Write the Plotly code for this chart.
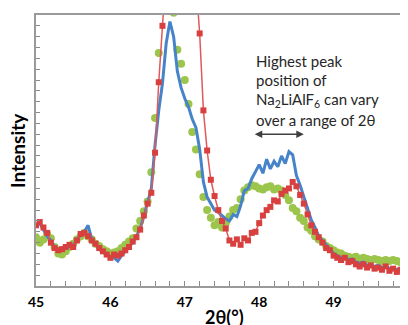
import plotly.graph_objects as go

# 2-theta grid (degrees) read at 0.05 steps
two_theta = [round(45 + 0.05 * i, 2) for i in range(101)]

red_sample = [
    5.6, 5.9, 5.4, 4.9, 4.0, 3.5, 3.3, 3.4, 3.6, 3.8,
    3.6, 4.2, 4.8, 4.9, 4.6, 4.2, 3.9, 3.5, 3.2, 2.9,
    2.6, 2.9, 2.8, 3.0, 3.3, 3.6, 4.1, 4.5, 5.2, 6.5,
    7.6, 8.6, 12.3, 18.8, 24.0, 32.0, 40.0, 46.0, 50.0, 50.0,
    48.0, 42.0, 35.0, 28.0, 23.3, 16.2, 12.5, 9.8, 8.3, 7.0,
    6.0, 5.3, 4.2, 3.9, 4.3, 3.8, 4.4, 4.2, 4.9, 5.0,
    5.8, 6.5, 7.0, 7.3, 7.9, 7.8, 8.5, 8.8, 9.0, 9.6,
    9.2, 8.4, 7.6, 6.6, 5.6, 5.0, 4.5, 4.0, 3.5, 3.3,
    2.8, 2.6, 2.4, 2.6, 2.2, 2.3, 2.0, 1.8, 2.0, 1.7,
    1.9, 1.6, 1.7, 1.5, 1.8, 1.4, 1.6, 1.3, 1.5, 1.3,
    1.4,
]

blue_sample = [
    5.5, 5.8, 5.2, 4.6, 4.2, 3.6, 3.4, 3.5, 3.7, 3.6,
    3.7, 4.3, 4.7, 5.0, 5.6, 4.3, 3.9, 3.4, 3.1, 2.9,
    2.7, 2.6, 2.3, 2.8, 3.2, 3.6, 4.0, 4.6, 5.3, 6.4,
    7.6, 9.0, 13.0, 16.2, 18.7, 22.4, 24.4, 23.0, 19.8, 18.3,
    17.3, 16.5, 15.4, 14.6, 12.6, 9.6, 8.2, 7.6, 7.0, 6.8,
    6.5, 6.2, 6.0, 6.6, 6.4, 7.4, 8.8, 9.0, 9.9, 10.6,
    11.2, 10.4, 11.7, 10.8, 11.5, 11.0, 12.0, 11.3, 12.4, 12.1,
    10.2, 9.3, 8.3, 7.2, 6.1, 5.4, 4.6, 4.2, 3.8, 3.5,
    3.0, 2.8, 2.6, 2.7, 2.4, 2.5, 2.2, 2.1, 2.2, 1.9,
    2.0, 1.8, 1.9, 1.7, 1.9, 1.6, 1.7, 1.5, 1.6, 1.4,
    1.5,
]

green_sample = [
    4.5, 4.0, 4.3, 4.8, 4.4, 3.6, 3.0, 2.9, 3.2, 3.6,
    3.9, 4.3, 4.6, 4.9, 4.6, 4.3, 3.9, 3.7, 3.4, 3.2,
    3.0, 3.1, 3.2, 3.5, 3.8, 4.1, 4.4, 5.3, 6.0, 6.9,
    7.8, 10.5, 15.5, 21.5, 25.5, 28.0, 27.0, 25.2, 21.8, 20.5,
    19.0, 16.8, 14.2, 12.6, 10.3, 8.2, 7.0, 6.3, 5.6, 5.9,
    5.4, 5.8, 6.4, 7.0, 7.2, 8.0, 8.8, 9.1, 9.3, 9.2,
    9.0, 8.9, 9.1, 9.2, 8.9, 9.0, 8.8, 8.4, 7.9, 7.2,
    6.9, 6.3, 6.0, 5.4, 5.1, 4.6, 4.3, 4.1, 3.7, 3.5,
    3.3, 3.1, 3.0, 2.8, 2.7, 2.6, 2.7, 2.5, 2.6, 2.5,
    2.4, 2.5, 2.4, 2.3, 2.4, 2.3, 2.4, 2.3, 2.2, 2.2,
    2.1,
]

x_tick_vals = [45, 46, 47, 48, 49, 50]
x_tick_text = ["45", "46", "47", "48", "49", "50"]

note_lines = [
    "Highest peak",
    "position of",
    "Na<sub>2</sub>LiAlF<sub>6</sub> can vary",
    "over a range of 2θ",
]

x_title = "2θ(°)"
y_title = "Intensity"

FONT = "Lato"

fig = go.Figure()
fig.add_trace(go.Scatter(
    x=two_theta, y=green_sample, mode="markers",
    marker=dict(symbol="circle", size=8, color="#9cc54b"),
    showlegend=False))
fig.add_trace(go.Scatter(
    x=two_theta, y=blue_sample, mode="lines",
    line=dict(color="#4683c9", width=3),
    showlegend=False))
fig.add_trace(go.Scatter(
    x=two_theta, y=red_sample, mode="lines+markers",
    line=dict(color="#e0585a", width=1.5),
    marker=dict(symbol="square", size=6, color="#d8403f"),
    showlegend=False))

# annotation text block
note_y = [20.8, 19.0, 17.2, 15.3]
for txt, yy in zip(note_lines, note_y):
    fig.add_annotation(x=47.93, y=yy, xref="x", yref="y", text=txt,
                       showarrow=False, xanchor="left", yanchor="middle",
                       font=dict(family=FONT, size=15, color="#262626"))

# double-headed arrow
fig.add_annotation(x=48.6, y=14.0, ax=47.92, ay=14.0, xref="x", yref="y",
                   axref="x", ayref="y", text="", showarrow=True,
                   arrowhead=2, arrowside="end+start", arrowsize=1,
                   arrowwidth=1.5, arrowcolor="#404040")

# axis titles
fig.add_annotation(x=47.54, y=-0.115, xref="x", yref="paper", text=x_title,
                   showarrow=False, xanchor="center", yanchor="middle",
                   font=dict(family=FONT, size=18, color="black", weight="bold"))
fig.add_annotation(x=-0.05, y=0.5, xref="paper", yref="paper", text=y_title,
                   showarrow=False, textangle=-90, xanchor="center",
                   yanchor="middle",
                   font=dict(family=FONT, size=19, color="black", weight="bold"))

# page has an 8px body margin, so the figure is sized to fit the window
fig.update_layout(
    width=400, height=317,
    margin=dict(l=28, r=0, t=7, b=39),
    paper_bgcolor="white", plot_bgcolor="white",
    font=dict(family=FONT, color="black"),
    xaxis=dict(
        range=[45, 50.0], tickvals=x_tick_vals, ticktext=x_tick_text,
        ticks="inside", ticklen=5, tickcolor="#8c8c8c", tickwidth=1,
        minor=dict(dtick=0.2, ticks="inside", ticklen=5, tickcolor="#8c8c8c"),
        showline=True, linecolor="#9a9a9a", linewidth=2, mirror=True,
        showgrid=False, zeroline=False, automargin=False,
        ticklabelstandoff=2, ticklabeloverflow="allow",
        tickfont=dict(family=FONT, size=14, color="black", weight="bold"),
    ),
    yaxis=dict(
        range=[0, 25], dtick=1, ticks="inside", ticklen=4, tickcolor="#8c8c8c",
        showticklabels=False, showline=True, linecolor="#9a9a9a", linewidth=2,
        mirror=True, showgrid=False, zeroline=False, automargin=False,
    ),
)

fig.write_html("out.html")
